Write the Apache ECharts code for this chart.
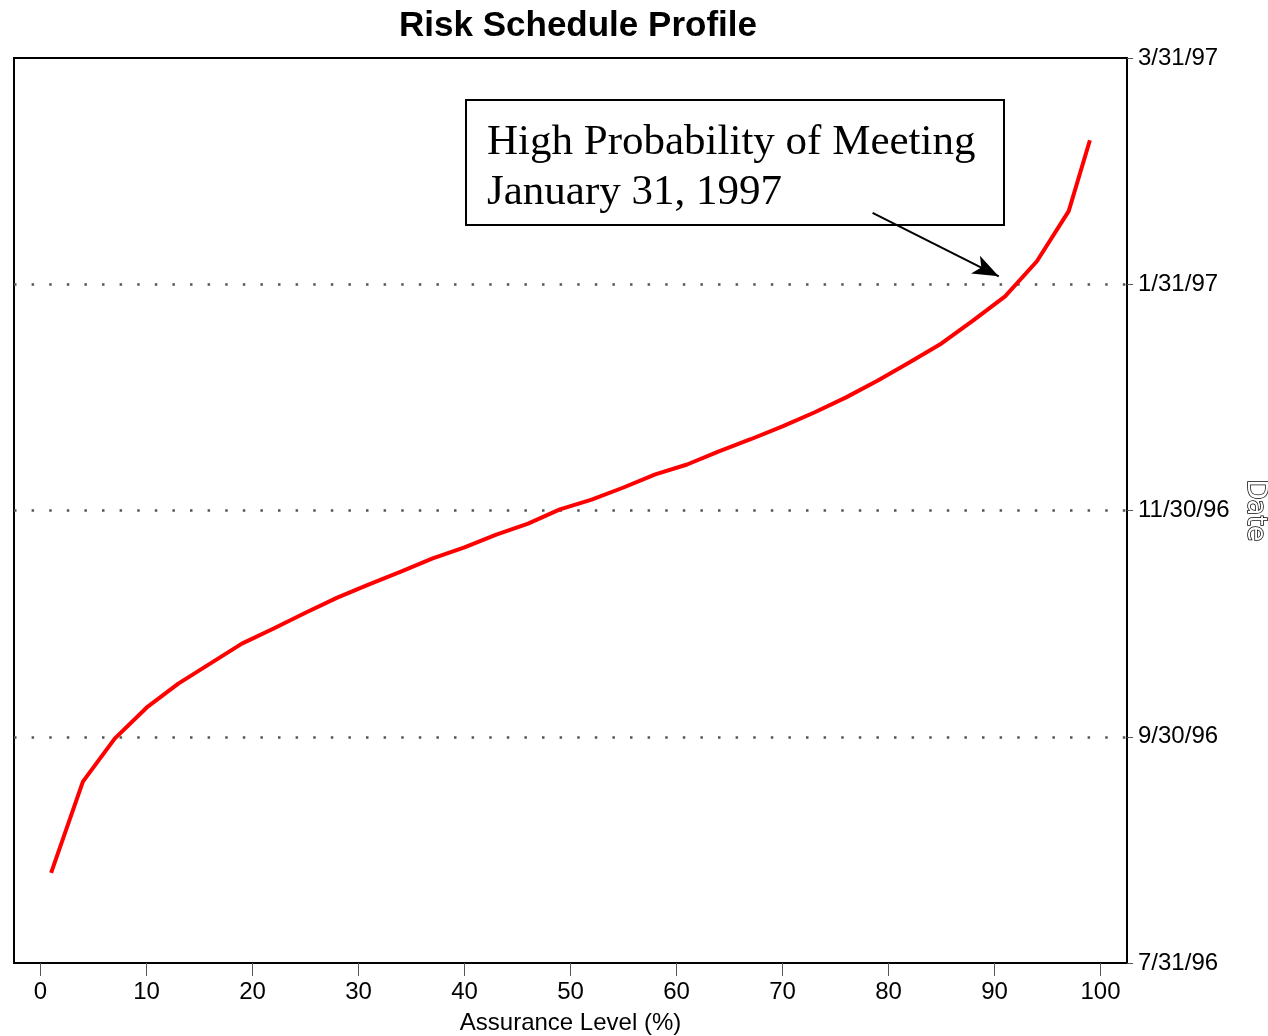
<!DOCTYPE html>
<html>
<head>
<meta charset="utf-8">
<script src="https://cdn.jsdelivr.net/npm/echarts@6/dist/echarts.min.js"></script>
<style>
html,body{margin:0;padding:0;background:#fff;}
#chart{width:1268px;height:1036px;}
</style>
</head>
<body>
<div id="chart"></div>
<script>
// Assurance level (%)
const assurance = [1,4,7,10,13,16,19,22,25,28,31,34,37,40,43,46,49,52,55,58,61,64,67,70,73,76,79,82,85,88,91,94,97,99];
// Completion date, in days after 7/31/96
const completionDays = [23.9,48.1,59.5,67.7,74.1,79.4,84.7,88.7,92.9,96.9,100.4,103.8,107.3,110.2,113.6,116.5,120.3,122.9,126.1,129.6,132.2,135.7,138.9,142.3,146.0,150.0,154.5,159.3,164.3,170.4,176.8,186.1,199.4,218.2];
// Axis ticks
const xTicks = [0,10,20,30,40,50,60,70,80,90,100];
const yTickValues = [0,60,120,180,240];
const yTickLabels = ['7/31/96','9/30/96','11/30/96','1/31/97','3/31/97'];
// Annotation
const noteText = 'High Probability of Meeting\nJanuary 31, 1997';
const arrowFrom = [78.5,198.9];
const arrowTo = [90.4,182.1];

const chart = echarts.init(document.getElementById('chart'), null, {renderer:'canvas'});
const sans = '"Liberation Sans", Arial, sans-serif';

chart.setOption({
  animation:false,
  backgroundColor:'#fff',
  title:{
    text:'Risk Schedule Profile',
    left:573, top:4, textAlign:'center',
    textStyle:{fontFamily:sans, fontWeight:'bold', fontSize:35, color:'#000'}
  },
  grid:{left:14, right:141, top:58, bottom:73, show:true, borderColor:'#000', borderWidth:2,
        containLabel:false, outerBoundsMode:'none'},
  xAxis:{
    type:'value', min:-2.5, max:102.5,
    name:'Assurance Level (%)', nameLocation:'middle', nameGap:48,
    nameTextStyle:{fontFamily:sans, fontSize:24, color:'#000'},
    axisLine:{show:true, onZero:false, lineStyle:{color:'#000', width:2}},
    axisTick:{show:true, customValues:xTicks, length:13, lineStyle:{color:'#555', width:1}},
    axisLabel:{customValues:xTicks, margin:17, fontFamily:sans, fontSize:24, color:'#000'},
    splitLine:{show:false}
  },
  yAxis:{
    type:'value', position:'right', min:0, max:240, interval:60,
    name:'Date', nameLocation:'middle', nameRotate:-90, nameGap:110,
    nameTextStyle:{fontFamily:'"DejaVu Sans", sans-serif', fontSize:26, color:'#fff', textBorderColor:'#000', textBorderWidth:1.5},
    axisLine:{show:true, onZero:false, lineStyle:{color:'#000', width:2}},
    axisTick:{show:true, inside:false, length:6, lineStyle:{color:'#555', width:1}},
    axisLabel:{margin:11, fontFamily:sans, fontSize:24, color:'#000',
      formatter:function(v){ const i = yTickValues.indexOf(v); return i>=0 ? yTickLabels[i] : ''; }},
    splitLine:{show:true, showMinLine:false, showMaxLine:false, lineStyle:{color:'#555', width:2.5, type:[2.5,15.1]}}
  },
  series:[{
    type:'line',
    data:assurance.map((x,i)=>[x, completionDays[i]]),
    showSymbol:false, symbol:'none',
    lineStyle:{color:'#ff0000', width:4},
    z:3,
    markLine:{
      silent:true, animation:false, z:5,
      symbol:['none','arrow'], symbolSize:[15,26],
      label:{show:false},
      lineStyle:{color:'#000', width:2, type:'solid'},
      data:[[{coord:arrowFrom},{coord:arrowTo}]]
    }
  }],
  graphic:[
    {type:'rect', z:1, shape:{x:466, y:100, width:538, height:125}, style:{fill:'#fff', stroke:'#000', lineWidth:2}},
    {type:'text', z:11, x:487, y:118, style:{text:noteText, font:'43px "Liberation Serif", "Times New Roman", serif', lineHeight:50, fill:'#000'}}
  ]
});
</script>
</body>
</html>
